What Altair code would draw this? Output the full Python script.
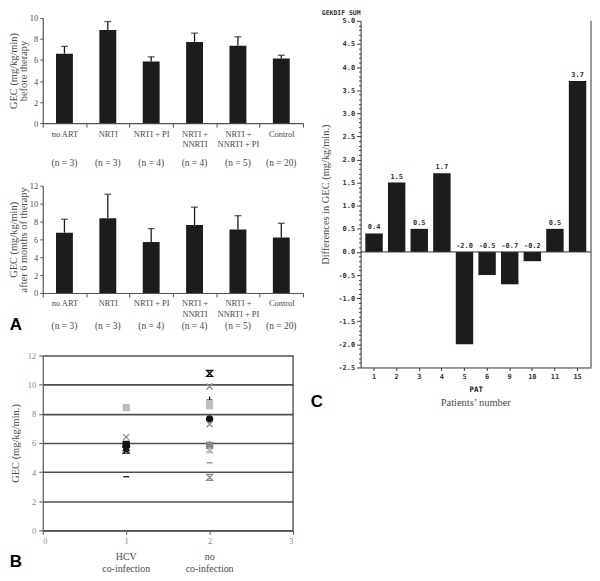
import altair as alt
import pandas as pd

# ---------------- Panel A data ----------------
a_groups = ["no ART", "NRTI", "NRTI + PI", "NRTI + NNRTI", "NRTI + NNRTI + PI", "Control"]
a_n = ["(n = 3)", "(n = 3)", "(n = 4)", "(n = 4)", "(n = 5)", "(n = 20)"]
a_before = [6.6, 8.85, 5.85, 7.7, 7.35, 6.15]
a_before_err = [7.3, 9.65, 6.3, 8.55, 8.2, 6.45]
a_after = [6.75, 8.35, 5.7, 7.6, 7.1, 6.2]
a_after_err = [8.25, 11.05, 7.2, 9.6, 8.65, 7.8]

# ---------------- Panel B data ----------------
b_x = [1, 1, 1, 1, 1, 1, 1, 2, 2, 2, 2, 2, 2, 2, 2, 2, 2, 2, 2]
b_value = [8.43, 6.4, 5.9, 5.8, 5.65, 5.5, 3.68,
           10.77, 9.88, 8.94, 8.7, 8.52, 7.65, 7.28, 5.93, 5.84, 5.49, 4.64, 3.64]
b_marker = ["square", "x", "square", "circle", "triangle", "hourglass", "dash",
            "hourglass", "x", "plus", "square", "triangle", "circle", "x", "triangle", "square",
            "triangle", "dash", "hourglass"]
b_tone = ["light", "gray", "black", "black", "black", "black", "black",
          "black", "gray", "black", "light", "light", "black", "gray", "light", "gray",
          "light", "gray", "gray"]
b_cat_x = [1, 2]
b_cat_line1 = ["HCV", "no"]
b_cat_line2 = ["co-infection", "co-infection"]

# ---------------- Panel C data ----------------
c_pat = [1, 2, 3, 4, 5, 6, 9, 10, 11, 15]
c_diff = [0.4, 1.5, 0.5, 1.7, -2.0, -0.5, -0.7, -0.2, 0.5, 3.7]

# ---------------- styles ----------------
SERIF = "Liberation Serif"
MONO = "DejaVu Sans Mono"
BAR = "#1d1b1c"
AXC = "#555555"
TXT = "#4a4a4a"
AW = 262

# ================= Panel A =================
def panel_a(vals, errs, ymax, title_lines, h, n_dy, letter):
    df = pd.DataFrame({"group": a_groups, "v": vals, "e": errs, "n": a_n})
    base = alt.Chart(df)
    x = alt.X("group:N", sort=a_groups,
              scale=alt.Scale(paddingInner=0, paddingOuter=0),
              axis=alt.Axis(title=None, labelAngle=0, tickBand="extent",
                            labelExpr="indexof(datum.label,'NNRTI') > 0 ? ['NRTI +', slice(datum.label, 7)] : datum.label",
                            labelFont=SERIF, labelFontSize=8.5, labelColor=TXT,
                            labelLineHeight=11, tickSize=4, labelPadding=2,
                            domainColor=AXC, tickColor=AXC, domainWidth=1.2))
    y = alt.Y("v:Q", scale=alt.Scale(domain=[0, ymax], nice=False),
              axis=alt.Axis(values=list(range(0, ymax + 1, 2)), tickCount=50, format="d",
                            grid=False,
                            title=title_lines, titleFont=SERIF, titleFontSize=10.5,
                            titleFontWeight="normal", titleColor=TXT, titlePadding=1,
                            titleLineHeight=10,
                            labelFont=SERIF, labelFontSize=8.5, labelColor=TXT,
                            tickSize=3, labelPadding=2,
                            domainColor=AXC, tickColor=AXC, domainWidth=1.2))
    bars = base.mark_bar(width=17, color=BAR).encode(x=x, y=y)
    err = base.mark_rule(color=BAR, strokeWidth=1.3).encode(x=x, y="v:Q", y2="e:Q")
    cap = base.mark_tick(size=7, thickness=1.3, color=BAR).encode(x=x, y="e:Q")
    ntext = base.mark_text(font=SERIF, fontSize=9.5, color=TXT, baseline="middle").encode(
        x=x, y=alt.value(h + n_dy), text="n:N")
    layers = [bars, err, cap, ntext]
    if letter:
        lt = alt.Chart(pd.DataFrame({"t": [letter]})).mark_text(
            font="Liberation Sans", fontSize=17, fontWeight="bold", color="#000",
            align="center", baseline="middle").encode(
            x=alt.value(-27), y=alt.value(h + 32), text="t:N")
        layers.append(lt)
    return alt.layer(*layers).properties(width=AW, height=h)

a1 = panel_a(a_before, a_before_err, 10, ["GEC (mg/kg/min)", "before therapy"], 106, 40, None)
a2 = panel_a(a_after, a_after_err, 12, ["GEC (mg/kg/min)", "after 6 months of therapy"], 108, 33, "A")

# ================= Panel B =================
shape_path = {
    "circle": "circle",
    "square": "square",
    "triangle": "triangle-up",
    "x": "M-1,-1L1,1M1,-1L-1,1",
    "plus": "M-1,0L1,0M0,-1.2L0,1.2",
    "dash": "M-1,0L1,0",
    "hourglass": "M-1,-1L1,-1L-1,1L1,1Z",
}
tone_color = {"black": "#111111", "gray": "#8a8a8a", "light": "#bdbdbd"}
filled_shapes = {"circle", "square", "triangle"}

bdf = pd.DataFrame({"x": b_x, "value": b_value, "marker": b_marker, "tone": b_tone})
bdf["shape"] = bdf["marker"].map(shape_path)
bdf["strokec"] = bdf["tone"].map(tone_color)
bdf["fillc"] = [tone_color[t] if m in filled_shapes else "transparent"
                for m, t in zip(b_marker, b_tone)]

BH, BW = 176, 252
bx = alt.X("x:Q", scale=alt.Scale(domain=[0, 3], nice=False),
           axis=alt.Axis(values=[0, 1, 2, 3], tickCount=50, format="d", title=None, grid=False,
                         labelFont=SERIF, labelFontSize=8.5, labelColor="#888",
                         tickSize=4, labelPadding=2, domainColor=AXC, tickColor=AXC,
                         domainWidth=1.2))
by = alt.Y("value:Q", scale=alt.Scale(domain=[0, 12], nice=False),
           axis=alt.Axis(values=[0, 2, 4, 6, 8, 10, 12], tickCount=50, format="d", grid=True,
                         gridColor="#505050",
                         gridWidth=1.6, title="GEC (mg/kg/min.)", titleFont=SERIF,
                         titleFontSize=10.5, titleFontWeight="normal", titleColor=TXT,
                         titlePadding=7, labelFont=SERIF, labelFontSize=8.5,
                         labelColor="#888", tickSize=4, labelPadding=3,
                         domainColor=AXC, tickColor=AXC, domainWidth=1.2))
bpts = alt.Chart(bdf).mark_point(filled=False, opacity=1, strokeWidth=1.3, size=36).encode(
    x=bx, y=by,
    shape=alt.Shape("shape:N", scale=None),
    stroke=alt.Stroke("strokec:N", scale=None),
    fill=alt.Fill("fillc:N", scale=None))
border = alt.Chart(pd.DataFrame({"a": [0]})).mark_rule(color="#505050", strokeWidth=1.4).encode(
    x=alt.datum(3), y=alt.datum(0), y2=alt.datum(12))
catdf = pd.DataFrame({"x": b_cat_x, "l1": b_cat_line1, "l2": b_cat_line2})
cattext = alt.Chart(catdf).transform_calculate(
    lab="datum.l1 + '\\n' + datum.l2").mark_text(
    font=SERIF, fontSize=10, color=TXT, baseline="middle", lineBreak="\n",
    lineHeight=12).encode(x="x:Q", y=alt.value(BH + 27), text="lab:N")
bletter = alt.Chart(pd.DataFrame({"t": ["B"]})).mark_text(
    font="Liberation Sans", fontSize=17, fontWeight="bold", color="#000",
    baseline="middle").encode(x=alt.value(-27), y=alt.value(BH + 32), text="t:N")
b = alt.layer(border, bpts, cattext, bletter).properties(width=BW, height=BH)

# ================= Panel C =================
CW, CH, CTOP = 232, 352, 3
cdf = pd.DataFrame({"pat": c_pat, "diff": c_diff})
minor_vals = [round(-2.5 + 0.1 * i, 1) for i in range(76)]
major_test = "abs(datum.value*2 - round(datum.value*2)) < 0.01"
cx = alt.X("pat:O", scale=alt.Scale(paddingInner=0.23, paddingOuter=0.21),
           axis=alt.Axis(title="PAT", titleFont=MONO, titleFontSize=7.5, titleFontWeight="bold",
                         titleColor="#222", titlePadding=6, labelAngle=0,
                         labelFont=MONO, labelFontSize=7, labelFontWeight="bold",
                         labelColor="#333", tickSize=3, labelPadding=2,
                         domainColor="#333", tickColor="#333"))
cy = alt.Y("diff:Q", scale=alt.Scale(domain=[-2.5, 5], range=[CH, CTOP], nice=False, zero=False),
           axis=alt.Axis(values=minor_vals, tickCount=500, labelOverlap=False, labelFlush=False,
                         labelExpr=major_test + " ? replace(format(datum.value, '.1f'), '\u2212', '-') : ''",
                         tickSize={"condition": {"test": major_test, "value": 4}, "value": 2},
                         grid=False, title="Differences in GEC (mg/kg/min.)",
                         titleFont=SERIF, titleFontSize=10.5, titleFontWeight="normal",
                         titleColor=TXT, titlePadding=7,
                         labelFont=MONO, labelFontSize=7, labelFontWeight="bold",
                         labelColor="#333", labelPadding=2,
                         domainColor="#333", tickColor="#333"))
cbars = alt.Chart(cdf).mark_bar(color=BAR).encode(x=cx, y=cy)
czero = alt.Chart(pd.DataFrame({"a": [0]})).mark_rule(color="#333", strokeWidth=1).encode(
    y=alt.datum(0))
clabels = alt.Chart(cdf).transform_calculate(
    ly="max(datum.diff, 0)",
    lab="replace(format(datum.diff, '.1f'), '\u2212', '-')").mark_text(
    font=MONO, fontSize=7, fontWeight="bold", color="#333", dy=-6, baseline="middle").encode(
    x="pat:O", y="ly:Q", text="lab:N")
cright = alt.Chart(pd.DataFrame({"a": [0]})).mark_rule(color="#333", strokeWidth=1).encode(
    x=alt.value(CW), y=alt.value(CTOP), y2=alt.value(CH))
ctexts = pd.DataFrame({"t": ["GEKDIF SUM"]})
ctitle = alt.Chart(ctexts).mark_text(font=MONO, fontSize=6.5, fontWeight="bold", color="#333",
                                     align="right", baseline="middle").encode(
    x=alt.value(0), y=alt.value(CTOP - 8), text="t:N")
cxname = alt.Chart(pd.DataFrame({"t": ["Patients\u2019 number"]})).mark_text(
    font=SERIF, fontSize=10.5, color=TXT, baseline="middle").encode(
    x=alt.value(CW / 2), y=alt.value(CH + 36), text="t:N")
cletter = alt.Chart(pd.DataFrame({"t": ["C"]})).mark_text(
    font="Liberation Sans", fontSize=17, fontWeight="bold", color="#000",
    baseline="middle").encode(x=alt.value(-44), y=alt.value(CH + 35), text="t:N")
c = alt.layer(cbars, czero, clabels, cright, ctitle, cxname, cletter).properties(width=CW, height=CH)

left = alt.vconcat(a1, a2, b, spacing=63, bounds="flush")
chart = alt.hconcat(left, c, spacing=6).properties(padding=0).configure_view(stroke=None)

chart.save("out.html", embed_options={"renderer": "svg", "actions": False})
